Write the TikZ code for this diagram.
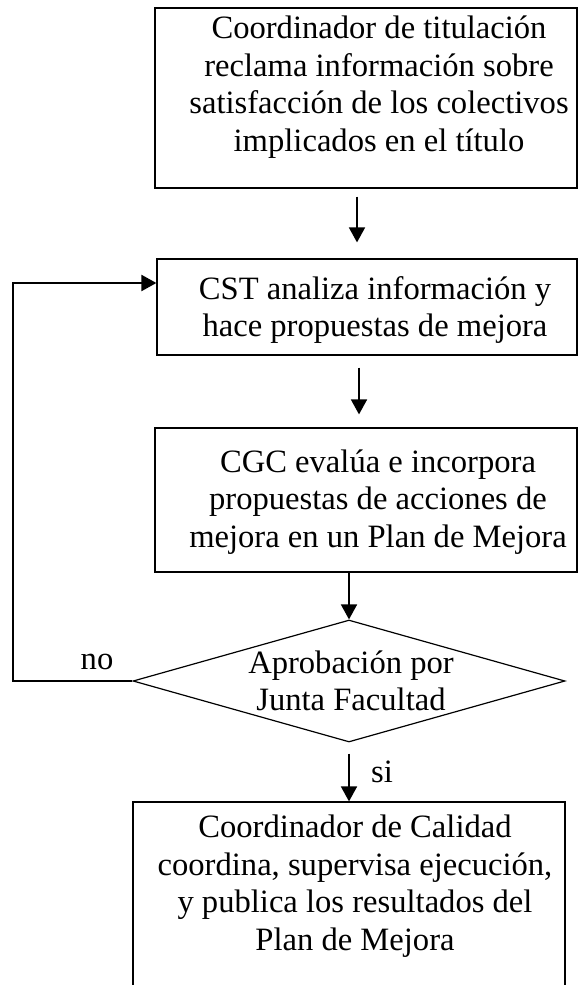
\documentclass[tikz,border=0pt]{standalone}
\usepackage{fontspec}
\setmainfont{Liberation Serif}
\usetikzlibrary{arrows.meta,shapes.geometric}
\begin{document}
\begin{tikzpicture}[x=1pt,y=-1pt,
  boxshape/.style={draw, line width=1.2pt, rectangle, inner sep=0pt},
  dshape/.style={draw, line width=1.2pt, diamond, inner sep=0pt},
  txt/.style={align=center, font=\fontsize{32.6}{37.5}\selectfont, inner sep=0pt},
  arr/.style={line width=1.8pt, -{Triangle[length=15pt,width=16pt]}},
  looparr/.style={arr, line width=2.2pt}]
\useasboundingbox (0,0) rectangle (580,985);
\clip (0,0) rectangle (580,985);
% boxes
\node[boxshape, minimum width=422pt, minimum height=180pt] (b1) at (366,98) {};
\node[txt] (t1) at (379,87) {Coordinador de titulación\\reclama información sobre\\satisfacción de los colectivos\\implicados en el título};
\node[boxshape, minimum width=420pt, minimum height=96pt] (b2) at (367,307) {};
\node[txt] (t2) at (375,310) {CST analiza información y\\hace propuestas de mejora};
\node[boxshape, minimum width=422pt, minimum height=144pt] (b3) at (366,500) {};
\node[txt] (t3) at (378,502) {CGC evalúa e incorpora\\propuestas de acciones de\\mejora en un Plan de Mejora};
\node[dshape, minimum width=432pt, minimum height=122pt] (dia) at (349,681) {};
\node[txt] (t4) at (351,681) {Aprobación por\\Junta Facultad};
\node[boxshape, minimum width=432pt, minimum height=220pt] (b5) at (349,912) {};
\node[txt] (t5) at (355,886) {Coordinador de Calidad\\coordina, supervisa ejecución,\\y publica los resultados del\\Plan de Mejora};
% labels
\node[txt] (no) at (97,662) {no};
\node[txt] (si) at (382,772) {si};
% arrow x positions
\coordinate (ax1) at (357,0);
\coordinate (ax2) at (359,0);
\coordinate (ax3) at (349,0);
\coordinate (lp) at (13,283);
% connectors
\draw[arr, shorten <=8pt, shorten >=16pt] (b1.south -| ax1) -- (b2.north -| ax1);
\draw[arr, shorten <=12pt, shorten >=13pt] (b2.south -| ax2) -- (b3.north -| ax2);
\draw[arr] (b3.south -| ax3) -- (dia.north);
\draw[arr, shorten <=11pt] (dia.south) -- (b5.north -| ax3);
\draw[looparr] (dia.west) -| (lp) -- (lp -| b2.west);
\end{tikzpicture}
\end{document}
